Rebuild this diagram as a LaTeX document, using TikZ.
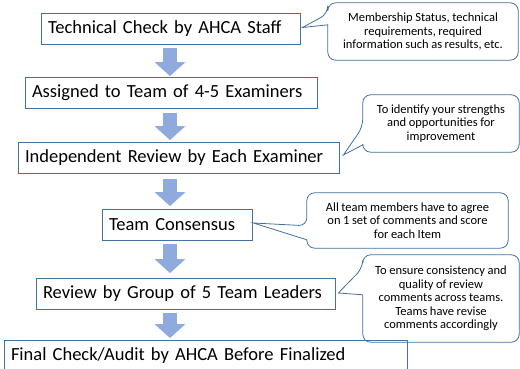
\documentclass[tikz,border=0pt]{standalone}
\usepackage{fontspec}
\setmainfont{Carlito}[WordSpace=0.9]
\usetikzlibrary{arrows.meta,calc}
\definecolor{boxline}{RGB}{65,113,156}
\definecolor{flowblue}{RGB}{143,170,220}

% speech bubble round a note node, pointer on its left side
% #1 note, #2 tip, #3/#4 pointer base measured from the top
\newcommand\bubble[4]{%
  \draw[bubble] (#1.north) -- (#1.north west) -- ([yshift=-#3]#1.north west)
    [sharp corners] -- (#2) -- ([yshift=-#4]#1.north west)
    [rounded corners=8pt] -- (#1.south west) -- (#1.south east)
    -- (#1.north east) -- cycle;}

\begin{document}
\begin{tikzpicture}[x=1pt,y=-1pt,
  stage/.style={draw=boxline,line width=.8pt,inner xsep=7pt,inner ysep=0pt,
    minimum height=31pt,align=left,font=\fontsize{18.5}{22}\selectfont},
  note/.style={inner sep=0pt,align=center,font=\fontsize{12.5}{13.5}\selectfont},
  bubble/.style={draw=boxline,line width=.8pt,rounded corners=8pt},
  flow/.style={flowblue,line width=14pt,-{Triangle[width=30pt,length=14pt]}}]
  \path[use as bounding box,fill=white] (0,0) rectangle (520,369);
  \coordinate (axis) at (170,0);

  % the six stages
  \node[stage,text width=245pt] (s1) at (170.5,28.5) {Technical Check by AHCA Staff};
  \node[stage,text width=278pt] (s2) at (171,93) {Assigned to Team of 4-5 Examiners};
  \node[stage,text width=307pt] (s3) at (178.5,158) {Independent Review by Each Examiner};
  \node[stage,text width=136pt] (s4) at (177,225) {Team Consensus};
  \node[stage,text width=285pt] (s5) at (185.5,294) {Review by Group of 5 Team Leaders};
  \node[stage,text width=389pt] (s6) at (205.5,356) {Final Check/Audit by AHCA Before Finalized};

  \draw[flow] ($(s1.south -| axis)+(0,4)$) -- ($(s2.north -| axis)+(0,-1)$);
  \draw[flow] ($(s2.south -| axis)+(0,4)$) -- ($(s3.north -| axis)+(0,-2)$);
  \draw[flow] ($(s3.south -| axis)+(0,5)$) -- ($(s4.north -| axis)+(0,-3)$);
  \draw[flow] ($(s4.south -| axis)+(0,3)$) -- ($(s5.north -| axis)+(0,-5)$);
  \draw[flow] ($(s5.south -| axis)+(0,3)$) -- ($(s6.north -| axis)+(0,-2)$);

  % side notes
  \node[note,minimum width=190pt,minimum height=57pt] (n1) at (423,31.5)
    {Membership Status, technical\\requirements, required\\information such as results, etc.};
  \node[note,minimum width=156pt,minimum height=57pt] (n2) at (441,123.5)
    {To identify your strengths\\and opportunities for\\improvement};
  \node[note,minimum width=201pt,minimum height=55pt] (n3) at (407.5,220.5)
    {All team members have to agree\\on 1 set of comments and score\\for each Item};
  \node[note,minimum width=156pt,minimum height=87pt] (n4) at (441,298.5)
    {To ensure consistency and\\quality of review\\comments across teams.\\Teams have revise\\comments accordingly};
  \bubble{n1}{$(s1.east)+(2,-1)$}{11pt}{22pt}
  \bubble{n2}{$(s3.east)+(4,-3)$}{32pt}{50pt}
  \bubble{n3}{$(s4.east)+(1,-2)$}{33pt}{47pt}
  \bubble{n4}{$(s5.east)+(3,-1)$}{13pt}{40pt}
\end{tikzpicture}
\end{document}
